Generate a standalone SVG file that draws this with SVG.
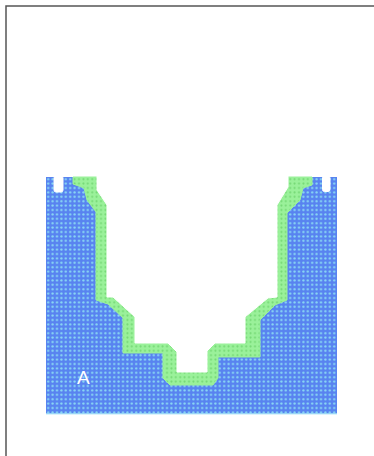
<svg xmlns="http://www.w3.org/2000/svg" width="374" height="456" viewBox="0 0 374 456">
  <defs>
    <!-- dotted cell textures -->
    <pattern id="waterDots" x="46" y="177" width="4.4" height="4.4" patternUnits="userSpaceOnUse">
      <rect width="4.4" height="4.4" fill="#5883f0"/>
      <circle cx="2.2" cy="2.2" r="1.15" fill="#8adaf3"/>
    </pattern>
    <pattern id="shoreDots" x="46" y="177" width="4.4" height="4.4" patternUnits="userSpaceOnUse">
      <rect width="4.4" height="4.4" fill="#9af19a"/>
      <circle cx="2.2" cy="2.2" r="1" fill="#74d874"/>
    </pattern>
    <style>
      .frame { fill: none; stroke: #555; stroke-width: 1.5; }
      .void { fill: #ffffff; stroke: #ffffff; stroke-width: 1; stroke-linejoin: round; }
      .label { font-family: "Liberation Sans", Arial, sans-serif; font-size: 19px; fill: #ffffff; }
    </style>
  </defs>

  <rect width="374" height="456" fill="#ffffff"/>
  <path class="frame" d="M6,456 V6 H374"/>

  <g id="basin">
    <!-- water body -->
    <rect x="46" y="177" width="291" height="237" fill="url(#waterDots)"/>
    <rect x="46" y="413" width="291" height="1.5" fill="#a6e4f8" opacity="0.8"/>
    <!-- shore band -->
    <polygon fill="url(#shoreDots)" stroke="#9af19a" stroke-width="1" stroke-linejoin="round"
      points="73,177 73,184 84,188 87,200 96,212 96,300 108,304 123,318 123,353 163,353 163,378 170,385 213,385 218,378 218,357 260,357 260,320 275,305 287,300 287,213 300,200 303,188 312,185 312,177"/>
    <!-- open cavity -->
    <polygon class="void"
      points="97,176 97,190 107,205 107,297 113,297 135,317 135,343 168,343 177,352 177,372 207,372 207,351 215,343 245,343 245,317 268,298 277,297 277,205 288,187 288,176"/>
    <!-- notches along the top rim -->
    <rect class="void" x="54" y="176" width="9" height="16" rx="2"/>
    <rect class="void" x="322.5" y="176" width="7.5" height="15.5" rx="2"/>
  </g>

  <g id="label-a">
    <text class="label" x="77" y="384">A</text>
  </g>
</svg>
